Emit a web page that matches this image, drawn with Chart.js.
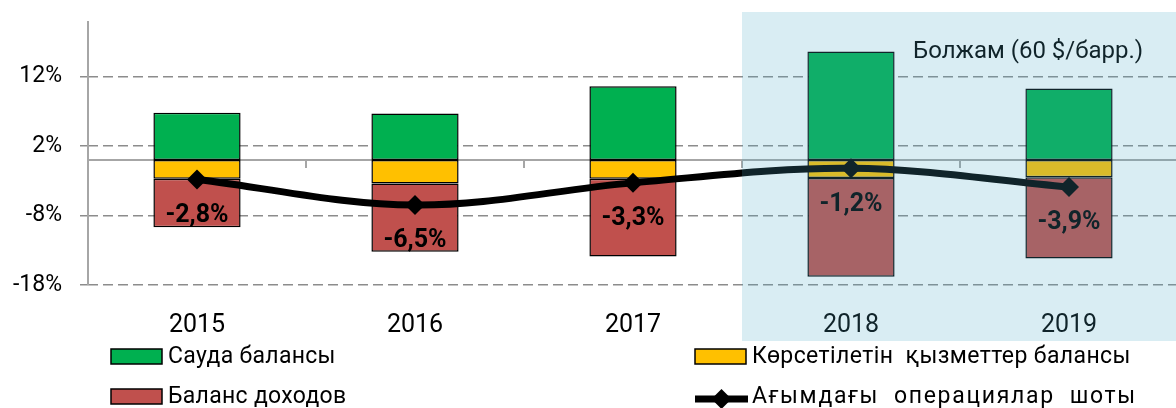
<!DOCTYPE html>
<html>
<head>
<meta charset="utf-8">
<script src="https://cdn.jsdelivr.net/npm/chart.js@4/dist/chart.umd.min.js"></script>
<style>
  html, body { margin: 0; padding: 0; background: #fff; overflow: hidden; width: 1176px; height: 408px; }
  #wrap { position: relative; width: 1188px; height: 408px; }
</style>
</head>
<body>
<div id="wrap"><canvas id="c" width="1188" height="408"></canvas></div>
<script>
// ---- Data ----
const categories = ['2015', '2016', '2017', '2018', '2019'];
const tradeBalance = [6.8, 6.7, 10.6, 15.6, 10.3];
const servicesBalance = [-2.7, -3.4, -2.7, -2.6, -2.5];
const incomeBalance = [-7.0, -9.8, -11.2, -14.2, -11.7];
const currentAccount = [-2.8, -6.5, -3.3, -1.2, -3.9];
const yTickValues = [-18, -8, 2, 12];
const seriesNames = ['Сауда балансы', 'Көрсетілетін  қызметтер балансы', 'Баланс доходов', 'Ағымдағы  операциялар  шоты'];
const forecastFrom = 3; // index of first forecast category
const forecastText = 'Болжам (60 $/барр.)';

const FONT = 'Roboto, "Noto Sans", sans-serif';

function fmtPct(v) { return v.toFixed(1).replace('.', ',') + '%'; }

const customDraw = {
  id: 'customDraw',
  beforeDatasetsDraw(chart) {
    const ctx = chart.ctx, ca = chart.chartArea;
    const y = chart.scales.y, x = chart.scales.x;
    const y0 = y.getPixelForValue(0);
    ctx.save();
    ctx.strokeStyle = '#A6A6A6';
    ctx.lineWidth = 2;
    ctx.beginPath();
    ctx.moveTo(ca.left, ca.top);
    ctx.lineTo(ca.left, ca.bottom);
    ctx.stroke();
    ctx.beginPath();
    ctx.moveTo(ca.left - 1, y0);
    ctx.lineTo(ca.right, y0);
    ctx.stroke();
    const half = (x.getPixelForValue(1) - x.getPixelForValue(0)) / 2;
    for (let i = 0; i <= categories.length; i++) {
      const px = x.getPixelForValue(0) - half + i * half * 2;
      ctx.beginPath();
      ctx.moveTo(px, y0);
      ctx.lineTo(px, y0 + 8);
      ctx.stroke();
    }
    ctx.restore();
  },
  afterDatasetsDraw(chart) {
    const ctx = chart.ctx;
    const meta = chart.getDatasetMeta(3);
    ctx.save();
    ctx.font = 'bold 25px ' + FONT;
    ctx.fillStyle = '#000';
    ctx.textAlign = 'center';
    ctx.textBaseline = 'middle';
    meta.data.forEach((pt, i) => {
      ctx.fillText(fmtPct(currentAccount[i]), pt.x, pt.y + 36);
    });
    ctx.restore();
  },
  afterDraw(chart) {
    const ctx = chart.ctx, x = chart.scales.x;
    const half = (x.getPixelForValue(1) - x.getPixelForValue(0)) / 2;
    const sx = x.getPixelForValue(forecastFrom) - half;
    ctx.save();
    ctx.font = '24px ' + FONT;
    ctx.fillStyle = '#000';
    ctx.textAlign = 'left';
    ctx.textBaseline = 'middle';
    ctx.fillText(forecastText, 913, 52);
    ctx.fillStyle = 'rgba(77,168,197,0.21)';
    ctx.fillRect(sx, 12, chart.width - sx, 341 - 12);
    const ds = chart.data.datasets;
    const items = [
      { i: 0, bx: 111, ty: 357, ls: 0.3 },
      { i: 1, bx: 695, ty: 357, ls: 0.4 },
      { i: 2, bx: 111, ty: 397, ls: 0.3 },
      { i: 3, bx: 695, ty: 397, ls: 1.7 }
    ];
    ctx.font = '23px ' + FONT;
    ctx.textBaseline = 'middle';
    items.forEach(it => {
      const d = ds[it.i];
      if (d.type === 'line') {
        ctx.strokeStyle = '#000';
        ctx.lineWidth = 7;
        ctx.beginPath();
        ctx.moveTo(it.bx, it.ty + 2);
        ctx.lineTo(it.bx + 53, it.ty + 2);
        ctx.stroke();
        ctx.fillStyle = '#000';
        const cx = it.bx + 26.5, cy = it.ty + 2, r = 10;
        ctx.beginPath();
        ctx.moveTo(cx, cy - r); ctx.lineTo(cx + r, cy); ctx.lineTo(cx, cy + r); ctx.lineTo(cx - r, cy);
        ctx.closePath(); ctx.fill();
      } else {
        ctx.fillStyle = d.backgroundColor;
        ctx.fillRect(it.bx, it.ty - 8, 51, 15);
        ctx.strokeStyle = '#000';
        ctx.lineWidth = 1.5;
        ctx.strokeRect(it.bx, it.ty - 8, 51, 15);
      }
      ctx.fillStyle = '#000';
      try { ctx.letterSpacing = it.ls + 'px'; } catch (e) {}
      ctx.fillText(d.label, it.bx + 57, it.ty);
      try { ctx.letterSpacing = '0px'; } catch (e) {}
    });
    ctx.restore();
  }
};

const barCommon = {
  type: 'bar',
  borderColor: '#000',
  borderWidth: 1.5,
  borderSkipped: false,
  stack: 'bal',
  order: 1,
  categoryPercentage: 1.0,
  barPercentage: 0.4
};

new Chart(document.getElementById('c'), {
  data: {
    labels: categories,
    datasets: [
      Object.assign({}, barCommon, { label: seriesNames[0], data: tradeBalance, backgroundColor: '#00B050' }),
      Object.assign({}, barCommon, { label: seriesNames[1], data: servicesBalance, backgroundColor: '#FFC000' }),
      Object.assign({}, barCommon, { label: seriesNames[2], data: incomeBalance, backgroundColor: '#C0504D' }),
      {
        type: 'line', label: seriesNames[3], data: currentAccount, stack: 'ca', order: 0,
        borderColor: '#000', borderWidth: 7, tension: 0.35,
        pointStyle: 'rectRot', pointRadius: 10, pointBackgroundColor: '#000', pointBorderColor: '#000', pointBorderWidth: 0
      }
    ]
  },
  options: {
    responsive: false,
    devicePixelRatio: 1,
    animation: false,
    layout: { padding: { top: 21, left: 0, right: 0, bottom: 0 } },
    plugins: { legend: { display: false }, tooltip: { enabled: false } },
    scales: {
      x: {
        stacked: true,
        offset: true,
        grid: { display: false, drawTicks: false },
        border: { display: false },
        ticks: { font: { family: FONT, size: 25 }, color: '#000', padding: 26 },
        afterFit(s) { s.height = 123; }
      },
      y: {
        stacked: true,
        min: -18,
        max: 20,
        afterBuildTicks(s) { s.ticks = yTickValues.map(v => ({ value: v })); },
        grid: { color: '#8C8C8C', lineWidth: 1.5, tickLength: 8, drawTicks: true },
        border: { display: false, dash: [10, 5] },
        ticks: { font: { family: FONT, size: 23 }, color: '#000', padding: 18, callback: v => v + '%' },
        afterFit(s) { s.width = 88; s.paddingTop = 0; s.paddingBottom = 0; }
      }
    }
  },
  plugins: [customDraw]
});
</script>
</body>
</html>
